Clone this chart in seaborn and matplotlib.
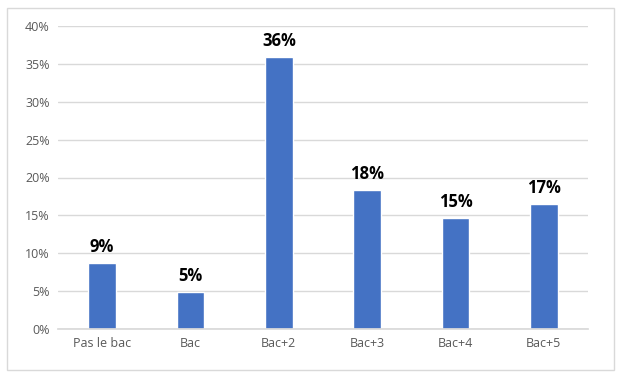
import matplotlib
matplotlib.use("Agg")
import matplotlib.pyplot as plt
import seaborn as sns
import pandas as pd
from matplotlib.patches import Rectangle
from matplotlib.ticker import FuncFormatter

categories = ["Pas le bac", "Bac", "Bac+2", "Bac+3", "Bac+4", "Bac+5"]
values = [0.087, 0.049, 0.359, 0.184, 0.147, 0.165]
labels = ["9%", "5%", "36%", "18%", "15%", "17%"]

sns.set_theme(style="white")
plt.rcParams['font.family'] = ['Open Sans', 'DejaVu Sans']

df = pd.DataFrame({"cat": categories, "val": values})

fig = plt.figure(figsize=(6.22, 3.78), dpi=100)
fig.patches.append(Rectangle((7/622, 1-370/378), 607/622, 362/378, transform=fig.transFigure,
                             fill=False, edgecolor="#D9D9D9", linewidth=1))
ax = fig.add_axes([58/622, 1-329/378, 530/622, 303/378])
sns.barplot(data=df, x="cat", y="val", color="#4472C4", width=0.31, ax=ax, saturation=1)
ax.set_xlim(-0.5, 5.5)
ax.set_ylim(0, 0.40)
ax.set_yticks([i*0.05 for i in range(9)])
ax.yaxis.set_major_formatter(FuncFormatter(lambda v, p: f"{round(v*100)}%"))
ax.grid(axis="y", color="#D9D9D9", linewidth=1)
ax.set_axisbelow(True)
for s in ["top", "right", "left"]:
    ax.spines[s].set_visible(False)
ax.spines["bottom"].set_color("#D9D9D9")
ax.tick_params(axis="both", length=0, labelsize=9, colors="#595959", pad=6)
ax.set_xlabel("")
ax.set_ylabel("")
for i, (v, l) in enumerate(zip(values, labels)):
    ax.annotate(l, (i, v), xytext=(0, 5), textcoords="offset points", ha="center", va="bottom",
                fontsize=12, fontweight="bold", color="black")
fig.savefig("out.png", dpi=100)
